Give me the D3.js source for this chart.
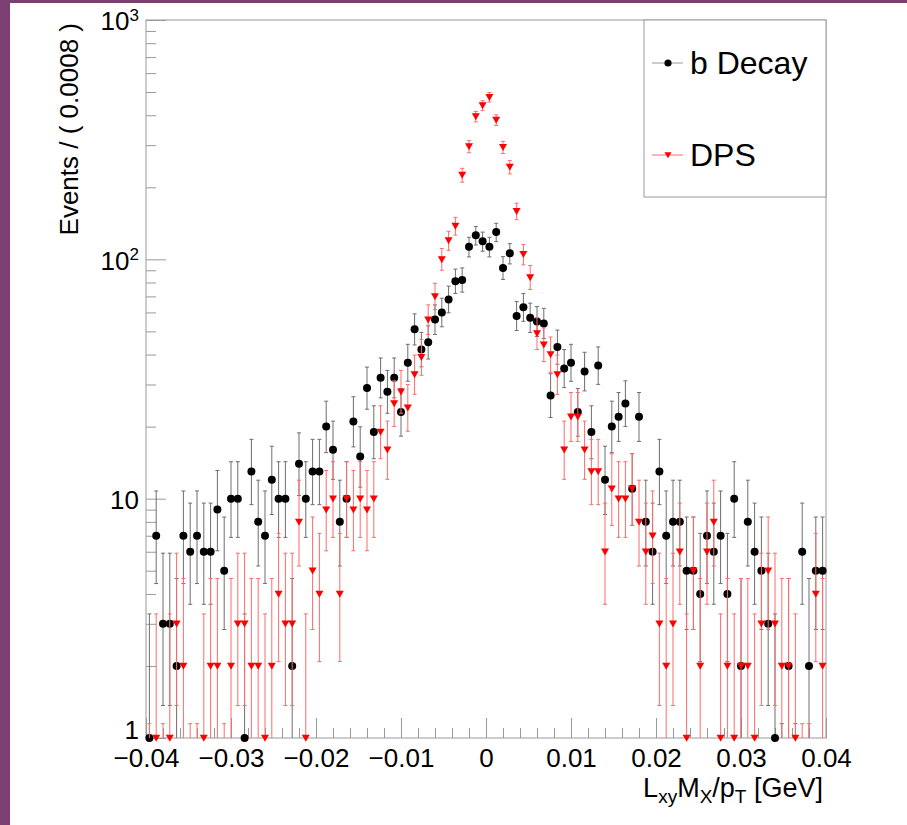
<!DOCTYPE html>
<html><head><meta charset="utf-8">
<script src="https://cdn.jsdelivr.net/npm/d3@7"></script>
<style>
html,body{margin:0;padding:0;background:#fff;}
svg{display:block;font-family:"Liberation Sans", Arial, Helvetica, sans-serif;}
</style></head><body>
<svg id="chart" width="907" height="825"></svg>
<script>
// ---- data ----
const xMin = -0.04, xMax = 0.04, nBins = 100;
const bDecay = [1,7,3,3,2,7,6,7,6,6, 9,5,10,10,1,13,8,7,12,10,
  10,2,14,10,13,13,20,16,8,10, 21,15,29,19,32,28,32,23,37,51,
  42,45,56,60,68,81,82,113,126,119, 113,130,92,106,58,63,57,55,54,27,
  43,35,37,23,34,19,36,12,20,22, 25,11,22,8,6,13,7,8,8,5,
  5,4,7,6,7,4,10,2,8,6, 5,3,1,0,2,0,6,2,5,5];
const dps = [0,1,0,1,3,2,0,0,1,2, 2,0,2,3,3,2,2,1,2,4,
  3,3,8,1,5,4,9,10,4,10, 9,10,9,10,19,16,25,28,24,33,
  39,56,70,100,120,138,225,296,395,439, 476,382,294,243,159,105,84,49,44,40,
  33,16,22,22,16,13,13,6,11,10, 10,11,8,6,7,3,2,3,6,1,
  5,2,6,8,1,2,1,2,2,1, 3,5,3,2,2,1,0,0,4,2];
const seriesNames = ["b Decay", "DPS"];
const xTickValues = [-0.04,-0.03,-0.02,-0.01,0,0.01,0.02,0.03,0.04];
const xTickLabels = ["\u22120.04","\u22120.03","\u22120.02","\u22120.01","0","0.01","0.02","0.03","0.04"];
const xMinorStep = 0.002;
const yTickValues = [1,10,100,1000];
const yTickBase = ["1","10","10","10"];
const yTickExp = ["","","2","3"];
const yMinorValues = [2,3,4,5,6,7,8,9,20,30,40,50,60,70,80,90,200,300,400,500,600,700,800,900];
const xTitle = [["L",""],["xy","sub"],["M",""],["X","sub"],["/p",""],["T","sub"],[" [GeV]",""]];
const yTitle = "Events / ( 0.0008 )";

// ---- layout ----
const W = 907, H = 825;
const L = 146, R = 826, T = 20, B = 738;
const svg = d3.select("#chart");
svg.append("rect").attr("width", W).attr("height", H).attr("fill", "#fff");
svg.append("rect").attr("x", 0).attr("y", 0).attr("width", 10).attr("height", H).attr("fill", "#7b3f72");
svg.append("rect").attr("x", 0).attr("y", 0).attr("width", W).attr("height", 3).attr("fill", "#7b3f72");

const x = d3.scaleLinear().domain([xMin, xMax]).range([L, R]);
const y = d3.scaleLog().domain([1, 1000]).range([B, T]);
const binW = (xMax - xMin) / nBins;
const centers = d3.range(nBins).map(i => xMin + (i + 0.5) * binW);

svg.append("clipPath").attr("id", "clip").append("rect")
  .attr("x", L).attr("y", T).attr("width", R - L).attr("height", B - T);

// Poisson (Garwood, 68.27%) interval as used by RooFit
function poisInterval(n) {
  if (n === 0) return [0, -Math.log(1 - 0.682689)];
  if (n > 100) return [n - Math.sqrt(n), n + Math.sqrt(n)];
  const a = (1 - 0.682689) / 2;
  const cdf = (k, mu) => { let t = Math.exp(-mu), s = t; for (let i = 1; i <= k; i++) { t *= mu / i; s += t; } return s; };
  const solve = (k, target) => {
    let lo = 0, hi = n + 20 * Math.sqrt(n) + 20;
    for (let it = 0; it < 80; it++) { const m = (lo + hi) / 2; if (cdf(k, m) > target) lo = m; else hi = m; }
    return (lo + hi) / 2;
  };
  return [solve(n - 1, 1 - a), solve(n, a)];
}
const yc = v => v <= 0 ? B + 20 : y(v);

// ---- axes ----
const gx = svg.append("g").attr("transform", `translate(0,${B})`);
gx.call(d3.axisBottom(x).tickValues(d3.range(0, 41).map(i => xMin + i * xMinorStep)).tickSizeInner(-10).tickSizeOuter(0).tickFormat(""));
const gx2 = svg.append("g").attr("transform", `translate(0,${B})`);
gx2.call(d3.axisBottom(x).tickValues(xTickValues).tickSizeInner(-20).tickSizeOuter(0).tickPadding(11)
  .tickFormat((d, i) => xTickLabels[i]));
const gy = svg.append("g").attr("transform", `translate(${L},0)`);
gy.call(d3.axisLeft(y).tickValues(yMinorValues).tickSizeInner(-10).tickSizeOuter(0).tickFormat(""));
const gy2 = svg.append("g").attr("transform", `translate(${L},0)`);
gy2.call(d3.axisLeft(y).tickValues(yTickValues).tickSizeInner(-20).tickSizeOuter(0).tickPadding(7).tickFormat(""));
gy2.selectAll(".tick text").each(function (d, i) {
  const t = d3.select(this).attr("dy", i === 0 ? "0em" : "0.38em");
  t.append("tspan").text(yTickBase[i]);
  if (yTickExp[i]) t.append("tspan").attr("dy", "-0.55em").attr("font-size", "17px").text(yTickExp[i]);
});
[gx, gx2, gy, gy2].forEach(g => {
  g.select(".domain").remove();
  g.selectAll(".tick line").attr("stroke", "#999").attr("stroke-width", 1);
  g.selectAll("text").attr("font-size", "26px").attr("fill", "#000").attr("font-family", "Liberation Sans, Arial, sans-serif");
});
// frame
svg.append("rect").attr("x", L).attr("y", T).attr("width", R - L).attr("height", B - T)
  .attr("fill", "none").attr("stroke", "#999").attr("stroke-width", 1);

// ---- series ----
const triPath = "M-4,-3.2L4,-3.2L0,3.8Z";
function drawSeries(vals, errColor, markerType) {
  const g = svg.append("g").attr("clip-path", "url(#clip)");
  const iv = vals.map(poisInterval);
  g.selectAll("line.err").data(vals).join("line").attr("class", "err")
    .attr("x1", (d, i) => x(centers[i])).attr("x2", (d, i) => x(centers[i]))
    .attr("y1", (d, i) => yc(iv[i][0])).attr("y2", (d, i) => yc(iv[i][1]))
    .attr("stroke", errColor).attr("stroke-width", 1);
  ["0", "1"].forEach(k => {
    g.selectAll("line.cap" + k).data(vals).join("line").attr("class", "cap" + k)
      .attr("x1", (d, i) => x(centers[i]) - 2).attr("x2", (d, i) => x(centers[i]) + 2)
      .attr("y1", (d, i) => yc(iv[i][+k])).attr("y2", (d, i) => yc(iv[i][+k]))
      .attr("stroke", errColor).attr("stroke-width", 1);
  });
  const gm = svg.append("g");
  const pts = vals.map((v, i) => ({ v, c: centers[i] })).filter(d => d.v > 0);
  if (markerType === "circle") {
    gm.selectAll("circle").data(pts).join("circle")
      .attr("cx", d => x(d.c)).attr("cy", d => y(d.v)).attr("r", 4).attr("fill", "#000");
  } else {
    gm.selectAll("path.tri").data(pts).join("path").attr("class", "tri")
      .attr("d", triPath)
      .attr("transform", d => `translate(${x(d.c)},${y(d.v)})`).attr("fill", "#f00");
  }
}
drawSeries(bDecay, "#6e6e6e", "circle");
drawSeries(dps, "#ff6b6b", "tri");

// ---- titles ----
const xt = svg.append("text").attr("x", 823).attr("y", 797).attr("text-anchor", "end")
  .attr("font-size", "27px").attr("fill", "#000");
xTitle.forEach(([s, kind], i) => {
  const prev = i > 0 ? xTitle[i - 1][1] : "";
  const ts = xt.append("tspan").text(s);
  if (kind === "sub") ts.attr("font-size", "19px").attr("dy", 6);
  else if (prev === "sub") ts.attr("dy", -6);
});
svg.append("text").attr("transform", "translate(78,23) rotate(-90)").attr("text-anchor", "end")
  .attr("font-size", "26px").attr("fill", "#000").text(yTitle);

// ---- legend ----
const lg = svg.append("g");
lg.append("rect").attr("x", 644).attr("y", T).attr("width", R - 644).attr("height", 177)
  .attr("fill", "#fff").attr("stroke", "#999").attr("stroke-width", 1);
const legendY = [63, 155];
const legendColors = ["#999", "#ff6b6b"];
seriesNames.forEach((name, i) => {
  lg.append("line").attr("x1", 652).attr("x2", 683).attr("y1", legendY[i]).attr("y2", legendY[i])
    .attr("stroke", legendColors[i]).attr("stroke-width", 1);
  if (i === 0) lg.append("circle").attr("cx", 668).attr("cy", legendY[i]).attr("r", 3.6).attr("fill", "#000");
  else lg.append("path").attr("d", "M-3.5,-2.8L3.5,-2.8L0,3.3Z").attr("transform", `translate(668,${legendY[i]})`).attr("fill", "#f00");
  lg.append("text").attr("x", 690).attr("y", legendY[i] + 11).attr("font-size", "32px").attr("fill", "#000").text(name);
});
</script>
</body></html>
